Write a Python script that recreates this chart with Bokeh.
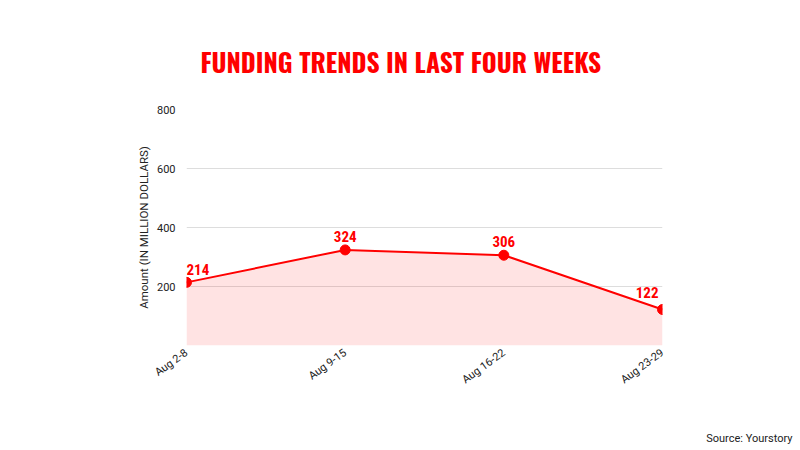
import math
from bokeh.plotting import figure
from bokeh.models import ColumnDataSource, Title, Range1d, FixedTicker
from bokeh.core.properties import value
from bokeh.embed import file_html
from bokeh.resources import INLINE

weeks = ["Aug 2-8", "Aug 9-15", "Aug 16-22", "Aug 23-29"]
amounts = [214, 324, 306, 122]
y_ticks = [200, 400, 600, 800]

RED = "#ff0000"
xs = list(range(len(weeks)))

FRAME_L, FRAME_R, FRAME_T, FRAME_B = 186, 662, 109, 345

src = ColumnDataSource(dict(x=xs, y=amounts, lbl=[str(a) for a in amounts],
                            align=["left", "center", "center", "right"],
                            xoff=[0, 0, 0, -4], yoff=[-7, -8, -8, -12]))

p = figure(width=800, height=450, output_backend="svg", toolbar_location=None,
           x_range=Range1d(0, len(weeks) - 1), y_range=Range1d(0, 800),
           min_border_left=FRAME_L, min_border_right=800 - FRAME_R,
           min_border_top=FRAME_T, min_border_bottom=450 - FRAME_B,
           outline_line_color=None,
           background_fill_color="white", border_fill_color="white")

p.title.text = "FUNDING TRENDS IN LAST FOUR WEEKS"
p.title.text_font = "Oswald"
p.title.text_font_style = "bold"
p.title.text_font_size = "25.5px"
p.title.text_color = RED
p.title.align = "left"
p.title.offset = 200 - FRAME_L
p.title.standoff = 60

p.varea(x="x", y1=0, y2="y", source=src, fill_color=RED, fill_alpha=0.11)
p.line(x="x", y="y", source=src, line_color=RED, line_width=2)
p.scatter(x="x", y="y", source=src, size=10, fill_color=RED, line_color=RED)
p.text(x="x", y="y", text="lbl", source=src, text_align="align", x_offset="xoff",
       y_offset="yoff", text_baseline="bottom", text_color=RED,
       text_font=value("Roboto Condensed"), text_font_style="bold", text_font_size="15px")

p.xgrid.visible = False
p.ygrid.grid_line_color = "#dddddd"
p.ygrid.ticker = FixedTicker(ticks=y_ticks)

p.yaxis.ticker = FixedTicker(ticks=y_ticks)
p.yaxis.axis_line_color = None
p.yaxis.major_tick_line_color = None
p.yaxis.minor_tick_line_color = None
p.yaxis.major_label_text_font = "Roboto"
p.yaxis.major_label_text_font_size = "11px"
p.yaxis.major_label_text_color = "#222222"
p.yaxis.major_label_standoff = 5
p.yaxis.axis_label = "Amount (IN MILLION DOLLARS)"
p.yaxis.axis_label_text_font = "Roboto"
p.yaxis.axis_label_text_font_style = "normal"
p.yaxis.axis_label_text_font_size = "11.5px"
p.yaxis.axis_label_text_color = "#222222"
p.yaxis.axis_label_standoff = 3

p.xaxis.ticker = FixedTicker(ticks=xs)
p.xaxis.major_label_overrides = {i: w for i, w in enumerate(weeks)}
p.xaxis.major_label_orientation = math.pi / 5
p.xaxis.axis_line_color = None
p.xaxis.major_tick_line_color = None
p.xaxis.minor_tick_line_color = None
p.xaxis.major_label_text_font = "Roboto"
p.xaxis.major_label_text_font_size = "11px"
p.xaxis.major_label_text_color = "#222222"
p.xaxis.major_label_standoff = 0

# spacer below the axis, then the source note
bottom_spacer = Title(text=" ", text_font_size="1px", standoff=32)
p.add_layout(bottom_spacer, "below")
source_title = Title(text="Source: Yourstory", align="right", offset=FRAME_R - 792,
                     standoff=0, text_font="Roboto", text_font_style="normal",
                     text_font_size="11px", text_color="#222222")
p.add_layout(source_title, "below")

open("out.html", "w").write(file_html(p, INLINE))
